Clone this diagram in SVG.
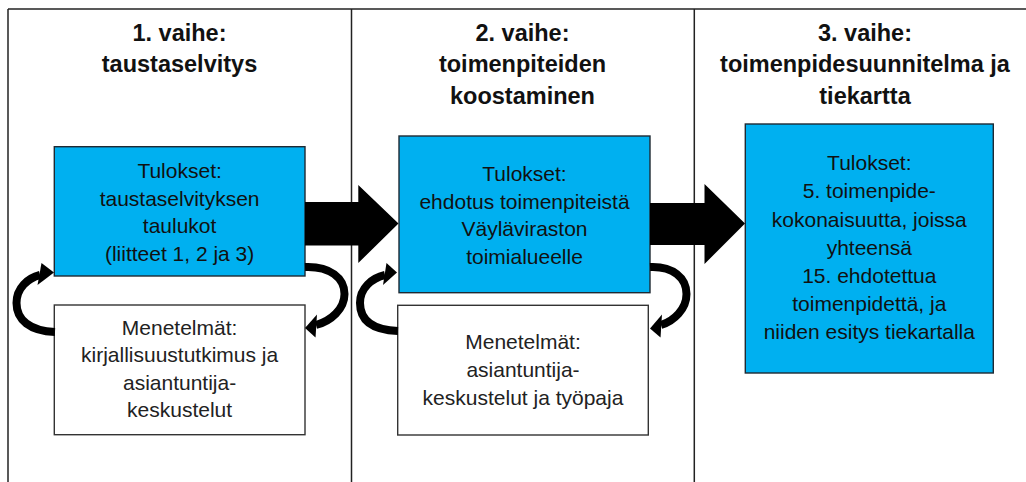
<svg xmlns="http://www.w3.org/2000/svg" width="1026" height="482" viewBox="0 0 1026 482">
<style>
.frame{stroke:#222;stroke-width:1.5;fill:none}
.blue{fill:#00B0F0;stroke:#1e2a33;stroke-width:1.4}
.white{fill:#fff;stroke:#333;stroke-width:1.4}
.h{font-family:"Liberation Sans",Arial,sans-serif;font-weight:bold;font-size:23.5px;fill:#111;text-anchor:middle}
.t{font-family:"Liberation Sans",Arial,sans-serif;font-size:21px;fill:#111;text-anchor:middle}
.tw{font-family:"Liberation Sans",Arial,sans-serif;font-size:21px;fill:#222;text-anchor:middle}
.curve{fill:none;stroke:#000;stroke-width:8}
.big{fill:#000}
</style>
<rect width="1026" height="482" fill="#fff"/>
<g id="frame">
<line class="frame" x1="8" y1="9" x2="1026" y2="9"/>
<line class="frame" x1="8" y1="9" x2="8" y2="482"/>
<line class="frame" x1="351.5" y1="9" x2="351.5" y2="482"/>
<line class="frame" x1="694.3" y1="9" x2="694.3" y2="482"/>
</g>
<g id="heading1">
<text class="h" x="179.5" y="40.5">1. vaihe:</text>
<text class="h" x="179.5" y="72">taustaselvitys</text>
</g>
<g id="heading2">
<text class="h" x="522.5" y="40.5">2. vaihe:</text>
<text class="h" x="522.5" y="72">toimenpiteiden</text>
<text class="h" x="522.5" y="104">koostaminen</text>
</g>
<g id="heading3">
<text class="h" x="865" y="40.5">3. vaihe:</text>
<text class="h" x="865" y="72">toimenpidesuunnitelma ja</text>
<text class="h" x="865" y="104">tiekartta</text>
</g>
<g id="results1">
<rect class="blue" x="54.3" y="146.7" width="250.7" height="129.3"/>
<text class="t" x="179.6" y="178">Tulokset:</text>
<text class="t" x="179.6" y="205.5">taustaselvityksen</text>
<text class="t" x="179.6" y="233">taulukot</text>
<text class="t" x="179.6" y="260.5">(liitteet 1, 2 ja 3)</text>
</g>
<g id="methods1">
<rect class="white" x="54.3" y="305" width="250.7" height="129.7"/>
<text class="tw" x="179.6" y="335">Menetelmät:</text>
<text class="tw" x="179.6" y="362">kirjallisuustutkimus ja</text>
<text class="tw" x="179.6" y="389.5">asiantuntija-</text>
<text class="tw" x="179.6" y="417">keskustelut</text>
</g>
<g id="results2">
<rect class="blue" x="399" y="136" width="251" height="156.7"/>
<text class="t" x="524.5" y="181">Tulokset:</text>
<text class="t" x="524.5" y="208.5">ehdotus toimenpiteistä</text>
<text class="t" x="524.5" y="236">Väyläviraston</text>
<text class="t" x="524.5" y="263.5">toimialueelle</text>
</g>
<g id="methods2">
<rect class="white" x="397.7" y="305.3" width="250.6" height="129.7"/>
<text class="tw" x="523" y="348.5">Menetelmät:</text>
<text class="tw" x="523" y="377">asiantuntija-</text>
<text class="tw" x="523" y="405">keskustelut ja työpaja</text>
</g>
<g id="results3">
<rect class="blue" x="745.3" y="124" width="248" height="249"/>
<text class="t" x="869.3" y="170">Tulokset:</text>
<text class="t" x="869.3" y="198.3">5. toimenpide-</text>
<text class="t" x="869.3" y="226.6">kokonaisuutta, joissa</text>
<text class="t" x="869.3" y="254.5">yhteensä</text>
<text class="t" x="869.3" y="282.7">15. ehdotettua</text>
<text class="t" x="869.3" y="310.7">toimenpidettä, ja</text>
<text class="t" x="869.3" y="338.5">niiden esitys tiekartalla</text>
</g>
<g id="connectors">
<polygon class="big" points="305,202 358.3,202 358.3,185 398.5,223.5 358.3,263 358.3,245.5 305,245.5"/>
<polygon class="big" points="650,203 704.5,203 704.5,184 745,223.5 704.5,264 704.5,245 650,245"/>
<path class="curve" d="M55,332 C30,331 16.5,320 16.5,303 C16.5,288 28,278 40,275"/>
<polygon class="big" points="54,272.5 41.5,263 37.5,285"/>
<path class="curve" d="M305,267 C330,266 344.5,278 344.5,294 C344.5,309 331,321 316,325"/>
<polygon class="big" points="305,328 317,314.5 315.5,337.5"/>
<path class="curve" d="M398,331 C372,330 360,320 360,303 C360,288 372,278 385,275"/>
<polygon class="big" points="397,272.5 386.5,263 383,285"/>
<path class="curve" d="M650,267 C673,266 686.5,278 686.5,294 C686.5,309 674,321 661,325"/>
<polygon class="big" points="650,328.5 662,314.5 660.5,337.5"/>
</g>
</svg>
